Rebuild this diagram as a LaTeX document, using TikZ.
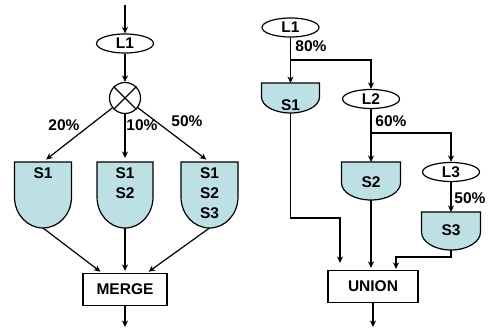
\documentclass[tikz,border=0pt]{standalone}
\usepackage{fontspec}
\setmainfont{Liberation Sans}
\usetikzlibrary{arrows.meta, shapes.geometric}
\definecolor{shieldblue}{RGB}{188,224,228}
\tikzset{
  lbl/.style={font=\bfseries\fontsize{15.5}{20}\selectfont, inner sep=0pt},
  loopnode/.style={draw, ellipse, lbl, minimum width=57pt, minimum height=19pt},
  opbox/.style={draw, rectangle, lbl, minimum height=32pt},
  flow/.style={-{Stealth[length=6.5pt, width=6pt, inset=2pt]}},
}
\newcommand{\shield}[6]{%
  \filldraw[fill=shieldblue] (#2-#6,#3) -- (#2-#6,#4) arc[start angle=180, end angle=360, x radius=#6, y radius=#4-#5] -- (#2+#6,#3) -- cycle;
  \coordinate (#1-t) at (#2,#3);
  \coordinate (#1-b) at (#2,#5);
}

\begin{document}
\begin{tikzpicture}[x=1pt, y=1pt, line width=1.2pt]
\useasboundingbox (0,0) rectangle (489,329);

% merge side
\coordinate (in) at (125,324);
\node[loopnode] (la) at (125,285.5) {L1};
\node[draw, circle, minimum size=31pt, inner sep=0pt] (mix) at (125,231) {};
\draw (mix.45) -- (mix.225) (mix.135) -- (mix.315);
\shield{sa}{43}{167}{132}{101}{28.5}
\shield{sb}{125}{167}{132}{101}{28}
\shield{sc}{209.5}{167}{132}{101}{28.5}
\node[lbl, anchor=north, align=center] (ta) at (43,162) {S1};
\node[lbl, anchor=north, align=center] (tb) at (125,162) {S1\\S2};
\node[lbl, anchor=north, align=center] (tc) at (209.5,162) {S1\\S2\\S3};
\node[lbl] (pa) at (64,204) {20\%};
\node[lbl] (pb) at (142,204) {10\%};
\node[lbl] (pc) at (187,208) {50\%};
\node[opbox, minimum width=84pt] (merge) at (125,39.5) {MERGE};
\coordinate (out) at (125,2);
\draw[flow] (in) -- (la);
\draw[flow] (la) -- (mix);
\draw[flow, shorten >=4pt] (mix) -- (sa-t);
\draw[flow, shorten >=4pt] (mix) -- (sb-t);
\draw[flow, shorten >=4pt] (mix) -- (sc-t);
\draw[flow, shorten >=2pt] (sa-b) -- ([xshift=-23pt]merge.north);
\draw[flow, shorten >=2pt] (sb-b) -- (merge.north);
\draw[flow, shorten >=2pt] (sc-b) -- ([xshift=22pt]merge.north);
\draw[flow] (merge) -- (out);

% union side
\node[loopnode] (lb) at (290.5,301.5) {L1};
\coordinate (ja) at (290.5,269);
\shield{sd}{290.5}{246}{232}{216}{29}
\node[lbl] (td) at (290.5,224) {S1};
\node[loopnode] (lc) at (371,230) {L2};
\coordinate (jb) at (371,196);
\shield{se}{371}{167}{146}{129}{29.5}
\node[lbl] (te) at (371,147) {S2};
\node[loopnode] (ld) at (451,157) {L3};
\shield{sf}{451}{117}{97}{79}{29.5}
\node[lbl] (tf) at (451,99) {S3};
\node[lbl] (pd) at (311,283) {80\%};
\node[lbl] (pe) at (391,208) {60\%};
\node[lbl] (pf) at (470,131) {50\%};
\node[opbox, minimum width=90pt] (union) at (373,42.5) {UNION};
\coordinate (ka) at (340,111);
\coordinate (kb) at (396,72);
\coordinate (out2) at (373,2);
\draw[flow] (lb) -- (sd-t);
\draw[flow] (ja) -| (lc);
\draw[flow] (lc) -- (se-t);
\draw[flow] (jb) -| (ld);
\draw[flow] (ld) -- (sf-t);
\draw[flow, shorten >=7pt] (sd-b) |- (ka) -- (ka |- union.north);
\draw[flow, shorten >=2pt] (se-b) -- (se-b |- union.north);
\draw[flow, shorten >=1pt] (sf-b) |- (kb) -- (kb |- union.north);
\draw[flow] (union) -- (out2);
\end{tikzpicture}
\end{document}
